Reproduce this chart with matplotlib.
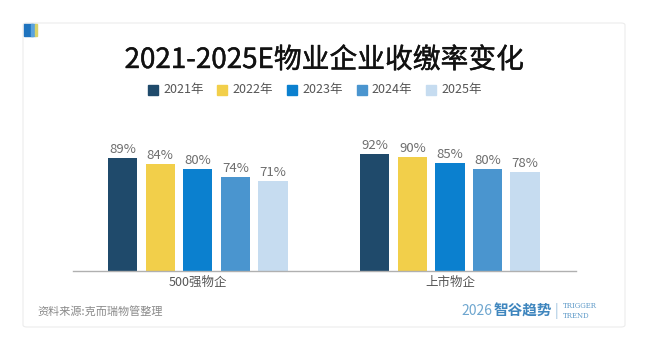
import numpy as np
import matplotlib
matplotlib.use("Agg")
from matplotlib import pyplot as plt
from matplotlib.patches import Rectangle, FancyBboxPatch
import matplotlib.patheffects as pe

plt.rcParams['font.family'] = ['Noto Sans CJK SC', 'DejaVu Sans']

# data
groups = ["500强物企", "上市物企"]
years = ["2021年", "2022年", "2023年", "2024年", "2025年"]
rate_2021 = [89, 92]
rate_2022 = [84, 90]
rate_2023 = [80, 85]
rate_2024 = [74, 80]
rate_2025 = [71, 78]
series = [rate_2021, rate_2022, rate_2023, rate_2024, rate_2025]
colors = ["#1f4a6b", "#f2cf4a", "#0b80cf", "#4a95cf", "#c6dcf0"]

W, H = 650, 351
fig = plt.figure(figsize=(W / 100, H / 100), dpi=100)
fig.patch.set_facecolor("white")

def fx(px):
    return px / W

def fy(py):
    return 1 - py / H

# card background
card = FancyBboxPatch((fx(23), fy(327)), fx(625) - fx(23), fy(23) - fy(327),
                      boxstyle="round,pad=0,rounding_size=0.006",
                      transform=fig.transFigure, facecolor="white",
                      edgecolor="#ececec", linewidth=0.8, zorder=-5)
fig.patches.append(card)
# little corner mark
fig.patches.append(Rectangle((fx(24), fy(36)), fx(9), fy(24) - fy(36),
                             transform=fig.transFigure, color="#1e73be", zorder=1))
fig.patches.append(Rectangle((fx(31), fy(36)), fx(4), fy(24) - fy(36),
                             transform=fig.transFigure, color="#5aa3dd", zorder=1))
fig.patches.append(Rectangle((fx(35), fy(36)), fx(2), fy(24) - fy(36),
                             transform=fig.transFigure, color="#d9d36a", zorder=1))

# title
fig.text(fx(324), fy(60), "2021-2025E物业企业收缴率变化", ha="center", va="center",
         fontsize=20, fontweight="normal", color="#111111",
         path_effects=[pe.withStroke(linewidth=0.3, foreground="#111111")])

# legend (manual)
leg_x0 = 148
leg_step = 69.5
for i, (lab, c) in enumerate(zip(years, colors)):
    x = leg_x0 + i * leg_step
    fig.patches.append(Rectangle((fx(x), fy(95)), fx(10), fy(85) - fy(95),
                                 transform=fig.transFigure, color=c))
    fig.text(fx(x + 15), fy(90), lab, ha="left", va="center",
             fontsize=9, color="#555555")

# axes
ax = fig.add_axes([fx(73), fy(270.5), fx(576) - fx(73), fy(144) - fy(270.5)])
ax.set_facecolor("none")
ax.set_zorder(2)

x = np.arange(len(groups))
step = 0.149
width = 0.116
for i, (vals, c) in enumerate(zip(series, colors)):
    pos = x + (i - 2) * step
    bars = ax.bar(pos, vals, width=width, color=c, zorder=2)
    for b, v in zip(bars, vals):
        ax.text(b.get_x() + b.get_width() / 2, v + 1.6, f"{v}%", ha="center",
                va="bottom", fontsize=9.5, color="#6e6e6e")

ax.set_xlim(-0.495, 1.5)
ax.set_ylim(0, 100)
ax.set_yticks([])
ax.set_xticks(x)
ax.set_xticklabels(groups, fontsize=9, color="#555555")
ax.tick_params(axis="x", length=0, pad=4)
for s in ["top", "right", "left"]:
    ax.spines[s].set_visible(False)
ax.spines["bottom"].set_color("#b0b0b0")
ax.spines["bottom"].set_linewidth(1)

# footer
fig.text(fx(37), fy(311), "资料来源:克而瑞物管整理", ha="left", va="center",
         fontsize=8, color="#8a8a8a")
fig.text(fx(461), fy(311), "2026", ha="left", va="center",
         fontsize=10, color="#6ea6cf", fontweight="light")
fig.text(fx(494), fy(311), "智谷趋势", ha="left", va="center",
         fontsize=10.5, color="#3f86be", fontweight="bold")
fig.text(fx(555), fy(311), "|", ha="left", va="center",
         fontsize=10, color="#9cc2de")
fig.text(fx(563), fy(306), "TRIGGER", ha="left", va="center",
         fontsize=5, color="#5e9ac8", family="DejaVu Serif")
fig.text(fx(563), fy(316), "TREND", ha="left", va="center",
         fontsize=5, color="#5e9ac8", family="DejaVu Serif")

fig.savefig("out.png", dpi=100)
